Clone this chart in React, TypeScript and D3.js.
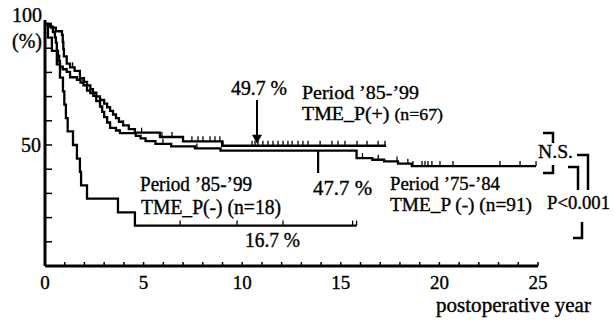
import React from "react";
import * as d3 from "d3";

const W = 615;
const H = 322;

// axis ticks
const xLabels = [0, 5, 10, 15, 20, 25];
const xMinor = d3.range(0, 26);
const yMinor = d3.range(0, 101, 10);

// Period '85-'99 TME_P(-) (n=18): [year, survival %]
const negSteps: [number, number][] = [
  [0, 100], [0.15, 94.4], [0.35, 88.9], [0.6, 83.3], [0.76, 77.8], [0.91, 72.2],
  [0.98, 66.7], [1.06, 61.1], [1.15, 55.6], [1.42, 50], [1.62, 44.4], [1.77, 38.9],
  [1.83, 33.3], [2.13, 27.8], [3.7, 22.2], [4.56, 16.7], [15.8, 16.7],
];
const negCensor = [6.85, 9.74, 12.07, 15.6, 15.8];

// Period '85-'99 TME_P(+) (n=67)
const posSteps: [number, number][] = [
  [0, 100], [0.3, 98.5], [0.55, 97], [0.86, 95.5], [0.9, 92.5], [0.93, 89.6],
  [0.96, 86.6], [1.1, 83.6], [1.27, 82.1], [1.5, 80.6], [1.77, 77.6], [1.95, 76.1],
  [2.13, 74.6], [2.3, 73.1], [2.43, 71.6], [2.6, 70.1], [2.79, 68.6], [3.0, 67.1],
  [3.15, 65.6], [3.3, 64.1], [3.45, 62.6], [3.6, 61.1], [3.75, 59.6], [3.96, 58.1],
  [4.25, 56.6], [4.56, 55.1], [5.83, 53.3], [7.0, 51.5], [8.98, 49.7], [17.3, 49.7],
];
const posCensor = [
  1.4, 2.0, 3.96, 4.9, 5.93, 6.44, 7.0, 7.45, 7.76, 8.01, 8.37, 8.62, 8.87, 9.03,
  10.5, 10.65, 10.8, 11.05, 11.31, 11.56, 11.82, 12.07, 12.32, 12.53, 12.83, 13.08,
  13.34, 13.95, 14.55, 14.86, 15.21, 15.82, 16.33, 16.89, 17.24,
];

// Period '75-'84 TME_P(-) (n=91)
const oldSteps: [number, number][] = [
  [0, 100], [0.2, 98.9], [0.4, 96.7], [0.5, 94.5], [0.55, 92.3], [0.6, 89],
  [0.66, 86.8], [0.72, 84.6], [0.76, 82.4], [0.9, 81.3], [1.1, 80.2], [1.27, 78],
  [1.62, 76.9], [1.8, 75.8], [1.95, 74.7], [2.13, 72.5], [2.3, 71.4], [2.45, 70.3],
  [2.6, 68.1], [2.79, 65.9], [2.9, 63.7], [3.0, 61.5], [3.15, 59.3], [3.3, 57.1],
  [3.6, 56], [3.8, 54.9], [4.6, 53.8], [4.85, 52.7], [5.1, 51.6], [5.6, 50.5],
  [6.4, 49.4], [7.6, 48.6], [8.9, 47.7], [15.8, 44.6], [16.6, 43.9], [17.2, 43.2],
  [17.9, 42.3], [18.6, 41.3], [24.9, 41.3],
];
const oldCensor = [
  5.98, 7.7, 16.1, 16.9, 17.85, 18.4, 18.66, 19.12, 19.27, 19.42, 19.62, 20.03,
  20.69, 23.07, 24.09, 24.9,
];

const x = d3.scaleLinear().domain([0, 25]).range([45, 538]);
const y = d3.scaleLinear().domain([0, 100]).range([266, 24]);

const line = d3
  .line<[number, number]>()
  .x((d) => x(d[0]))
  .y((d) => y(d[1]))
  .curve(d3.curveStepAfter);

const survAt = (steps: [number, number][], t: number) => {
  let s = steps[0][1];
  for (const [ti, si] of steps) if (ti <= t) s = si;
  return s;
};

const font = "Liberation Serif, DejaVu Serif, serif";

const Curve = ({ steps, censor }: { steps: [number, number][]; censor: number[] }) => (
  <g>
    <path d={line(steps) || ""} fill="none" stroke="#000" strokeWidth={2.3} />
    {censor.map((t, i) => {
      const cx = x(t);
      const cy = y(survAt(steps, t));
      return <line key={i} x1={cx} x2={cx} y1={cy} y2={cy - 5} stroke="#000" strokeWidth={1.3} />;
    })}
  </g>
);

// scanned text: slightly heavier, width pinned to what the figure shows
const T = ({ x: tx, y: ty, w, size = 20, anchor, children }: any) => (
  <text
    x={tx}
    y={ty}
    fontSize={size}
    textAnchor={anchor}
    textLength={w}
    lengthAdjust={w ? "spacingAndGlyphs" : undefined}
    stroke="#000"
    strokeWidth={0.35}
  >
    {children}
  </text>
);

export default function App() {
  const a1x = x(10.75);
  const a2x = x(13.85);
  return (
    <svg
      width={W}
      height={H}
      style={{ position: "absolute", left: 0, top: 0, background: "#fff", fontFamily: font }}
    >
      {/* axes */}
      <line x1={x(0)} x2={x(0)} y1={20} y2={y(0)} stroke="#000" strokeWidth={3} />
      <line x1={x(0)} x2={x(25)} y1={y(0)} y2={y(0)} stroke="#000" strokeWidth={3} />
      {xMinor.map((t) => (
        <line key={t} x1={x(t)} x2={x(t)} y1={y(0)} y2={y(0) - 4} stroke="#000" strokeWidth={1.5} />
      ))}
      {yMinor.map((v) => (
        <line key={v} x1={x(0)} x2={x(0) + 7} y1={y(v)} y2={y(v)} stroke="#000" strokeWidth={1.5} />
      ))}
      {xLabels.map((t) => (
        <T key={t} x={x(t)} y={289} size={19} anchor="middle">
          {t}
        </T>
      ))}
      <T x={42} y={22} size={20} anchor="end">100</T>
      <T x={42} y={48} size={20} anchor="end">(%)</T>
      <T x={41} y={152} size={20} anchor="end">50</T>
      <T x={436} y={312} size={20} w={155}>postoperative year</T>

      {/* curves */}
      <Curve steps={oldSteps} censor={oldCensor} />
      <Curve steps={posSteps} censor={posCensor} />
      <Curve steps={negSteps} censor={negCensor} />

      {/* annotations */}
      <T x={231} y={95} w={56}>49.7 %</T>
      <line x1={a1x} x2={a1x} y1={100} y2={y(49.7) - 8} stroke="#000" strokeWidth={2} />
      <path d={`M${a1x - 5},${y(49.7) - 11} L${a1x + 5},${y(49.7) - 11} L${a1x},${y(49.7) - 2} Z`} fill="#000" />
      <line x1={a2x} x2={a2x} y1={173} y2={y(47.7)} stroke="#000" strokeWidth={2.2} />
      <T x={313} y={195} w={59}>47.7 %</T>

      <T x={302} y={99} size={19} w={117}>Period ’85-’99</T>
      <text x={302} y={120} fontSize={19} stroke="#000" strokeWidth={0.35} textLength={141} lengthAdjust="spacingAndGlyphs">
        TME_P(+) <tspan fontSize={17}>(n=67)</tspan>
      </text>

      <T x={390} y={190} size={19} w={110}>Period ’75-’84</T>
      <T x={390} y={211} size={19} w={142}>TME_P (-) (n=91)</T>

      <T x={140} y={191} w={112}>Period ’85-’99</T>
      <T x={141} y={214} w={140}>TME_P(-) (n=18)</T>

      <T x={245} y={247} w={55}>16.7 %</T>

      <T x={538} y={158} size={19} w={35}>N.S.</T>
      <path d="M543,133 H553 V143 M553,165 V173 H543" fill="none" stroke="#000" strokeWidth={2.5} />
      <path d="M568,167 H578 V190 M577,155 H588 V190" fill="none" stroke="#000" strokeWidth={2.5} />
      <T x={547} y={209} size={19} w={63}>P&lt;0.001</T>
      <path d="M582,222 V238 H573" fill="none" stroke="#000" strokeWidth={2.5} />
    </svg>
  );
}
